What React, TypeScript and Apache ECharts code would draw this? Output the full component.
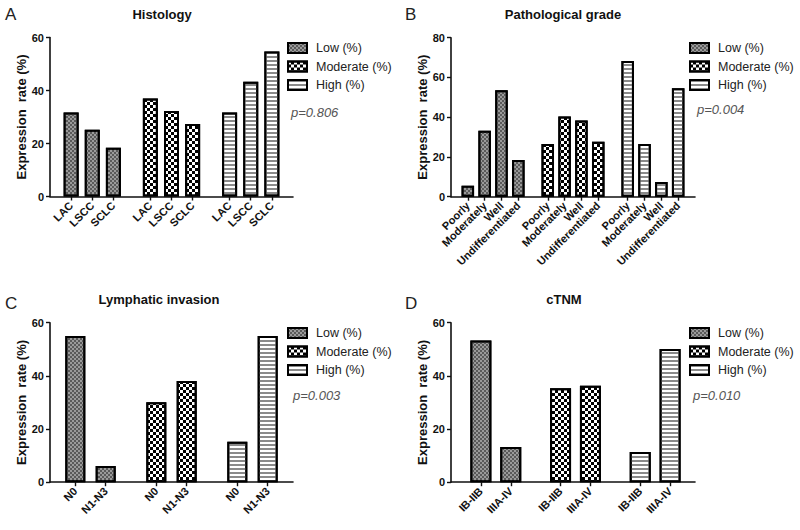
import React, { useEffect, useRef } from "react";
import * as echarts from "echarts";

// ---- Data ----
const seriesNames = ["Low (%)", "Moderate (%)", "High (%)"];

const histCats = ["LAC", "LSCC", "SCLC"];
const histLow = [31.7, 25.2, 18.4];
const histModerate = [37.0, 32.3, 27.4];
const histHigh = [31.7, 43.3, 54.7];

const gradeCats = ["Poorly", "Moderately", "Well", "Undifferentiated"];
const gradeLow = [5.5, 33.2, 53.6, 18.5];
const gradeModerate = [26.5, 40.3, 38.3, 27.6];
const gradeHigh = [68.3, 26.5, 7.4, 54.6];

const lymphCats = ["N0", "N1-N3"];
const lymphLow = [55.0, 6.1];
const lymphModerate = [30.1, 38.1];
const lymphHigh = [15.2, 55.0];

const tnmCats = ["IB-IIB", "IIIA-IV"];
const tnmLow = [53.3, 13.2];
const tnmModerate = [35.3, 36.3];
const tnmHigh = [11.4, 50.1];

const panelTitles = ["Histology", "Pathological grade", "Lymphatic invasion", "cTNM"];
const panelLetters = ["A", "B", "C", "D"];
const pValues = ["p=0.806", "p=0.004", "p=0.003", "p=0.010"];
const yMaxes = [60, 80, 60, 60];
const yTickInterval = 20;
const yAxisTitle = "Expression  rate (%)";

// ---- Styles ----
const FONT = "'Liberation Sans', Arial, Helvetica, sans-serif";

const decals = [
  {
    symbol: "rect",
    symbolSize: 1,
    symbolKeepAspect: false,
    color: "#5a5a5a",
    backgroundColor: "#dcdcdc",
    dashArrayX: [[1.5, 1.5], [0, 1.5, 1.5, 0]],
    dashArrayY: [1.5, 0],
    rotation: 0,
  },
  {
    symbol: "rect",
    symbolSize: 1,
    symbolKeepAspect: false,
    color: "#000000",
    backgroundColor: "#ffffff",
    dashArrayX: [[3, 3], [0, 3, 3, 0]],
    dashArrayY: [3, 0],
    rotation: 0,
  },
  {
    symbol: "rect",
    symbolSize: 1,
    symbolKeepAspect: false,
    color: "#8a8a8a",
    backgroundColor: "#ffffff",
    dashArrayX: [4, 0],
    dashArrayY: [1.4, 1.4],
    rotation: 0,
  },
];
const baseColors = ["#9a9a9a", "#ffffff", "#ffffff"];

type Panel = {
  cats: string[];
  groups: number[][];
  pad: number;
  step: number;
  gap: number;
  endPad: number;
  barWidth: number;
  grid: { left: number; top: number; width: number; height: number };
  legend: { left: number; top: number };
  title: { x: number; y: number };
  letter: { x: number; y: number };
  p: { x: number; y: number };
};

const panels: Panel[] = [
  {
    cats: histCats,
    groups: [histLow, histModerate, histHigh],
    pad: 4, step: 4, gap: 7, endPad: 4,
    barWidth: 15,
    grid: { left: 50, top: 37.5, width: 243, height: 159 },
    legend: { left: 287, top: 41 },
    title: { x: 162, y: 14 },
    letter: { x: 5, y: 14 },
    p: { x: 291, y: 112 },
  },
  {
    cats: gradeCats,
    groups: [gradeLow, gradeModerate, gradeHigh],
    pad: 4, step: 4, gap: 7, endPad: 4,
    barWidth: 12.5,
    grid: { left: 451, top: 37.7, width: 244, height: 159 },
    legend: { left: 689, top: 41 },
    title: { x: 563, y: 14 },
    letter: { x: 405, y: 14 },
    p: { x: 697, y: 109 },
  },
  {
    cats: lymphCats,
    groups: [lymphLow, lymphModerate, lymphHigh],
    pad: 5, step: 6, gap: 10, endPad: 5,
    barWidth: 20,
    grid: { left: 50, top: 322.7, width: 243, height: 159.5 },
    legend: { left: 287, top: 326 },
    title: { x: 159, y: 299 },
    letter: { x: 5, y: 303 },
    p: { x: 293, y: 395 },
  },
  {
    cats: tnmCats,
    groups: [tnmLow, tnmModerate, tnmHigh],
    pad: 6, step: 6, gap: 10, endPad: 5,
    barWidth: 21,
    grid: { left: 451, top: 322.7, width: 244, height: 159.5 },
    legend: { left: 689, top: 326 },
    title: { x: 564, y: 299 },
    letter: { x: 405, y: 303 },
    p: { x: 693, y: 395 },
  },
];

function buildOption() {
  const grids: any[] = [];
  const xAxes: any[] = [];
  const yAxes: any[] = [];
  const series: any[] = [];
  const legends: any[] = [];
  const graphics: any[] = [];

  panels.forEach((pn, pi) => {
    const n = pn.cats.length;
    const groupSpan = (n - 1) * pn.step + pn.gap;
    const last = pn.pad + 2 * groupSpan + (n - 1) * pn.step + pn.endPad;
    const slotIds: string[] = [];
    const slotLabels: string[] = [];
    for (let i = 0; i <= last; i++) {
      slotIds.push("s" + i);
      slotLabels.push("");
    }
    const groupData: any[][] = pn.groups.map(() => slotIds.map(() => "-"));
    pn.groups.forEach((vals, g) => {
      vals.forEach((v, c) => {
        const idx = pn.pad + g * groupSpan + c * pn.step;
        slotLabels[idx] = pn.cats[c];
        groupData[g][idx] = v;
      });
    });

    grids.push({ ...pn.grid, containLabel: false });

    const showFn = (idx: number) => slotLabels[idx] !== "";
    xAxes.push({
      type: "category",
      gridIndex: pi,
      data: slotIds,
      boundaryGap: false,
      axisLine: { show: true, lineStyle: { color: "#111", width: 1.6 } },
      axisTick: {
        show: true,
        interval: showFn,
        length: 4,
        lineStyle: { color: "#111", width: 1.4 },
      },
      axisLabel: {
        interval: showFn,
        rotate: 45,
        margin: 7,
        fontSize: 11,
        fontWeight: "bold",
        color: "#111",
        fontFamily: FONT,
        formatter: (_v: string, idx: number) => slotLabels[idx],
      },
      splitLine: { show: false },
    });

    yAxes.push({
      type: "value",
      gridIndex: pi,
      min: 0,
      max: yMaxes[pi],
      interval: yTickInterval,
      name: yAxisTitle,
      nameLocation: "middle",
      nameGap: 21,
      nameTextStyle: {
        fontSize: 13,
        fontWeight: "bold",
        color: "#111",
        fontFamily: FONT,
      },
      axisLine: { show: true, lineStyle: { color: "#111", width: 1.6 } },
      axisTick: { show: true, length: 4, lineStyle: { color: "#111", width: 1.4 } },
      axisLabel: {
        fontSize: 11,
        fontWeight: "bold",
        color: "#111",
        margin: 6,
        fontFamily: FONT,
      },
      splitLine: { show: false },
    });

    groupData.forEach((data, g) => {
      series.push({
        type: "bar",
        name: seriesNames[g],
        xAxisIndex: pi,
        yAxisIndex: pi,
        data,
        barWidth: pn.barWidth,
        barGap: "-100%",
        itemStyle: {
          color: baseColors[g],
          borderColor: "#000",
          borderWidth: 2,
          decal: decals[g],
        },
        emphasis: { disabled: true },
      });
    });

    legends.push({
      orient: "vertical",
      left: pn.legend.left,
      top: pn.legend.top,
      padding: 0,
      icon: "rect",
      itemWidth: 19,
      itemHeight: 10,
      itemGap: 4.5,
      selectedMode: false,
      data: seriesNames,
      itemStyle: { borderColor: "#000", borderWidth: 2 },
      textStyle: {
        fontSize: 12.5,
        lineHeight: 14,
        color: "#222",
        fontFamily: FONT,
        padding: [0, 0, 0, 4],
      },
    });

    graphics.push({
      type: "text",
      x: pn.letter.x,
      y: pn.letter.y,
      style: {
        text: panelLetters[pi],
        fontSize: 17,
        fontFamily: FONT,
        fill: "#222",
        align: "left",
        verticalAlign: "middle",
      },
    });
    graphics.push({
      type: "text",
      x: pn.title.x,
      y: pn.title.y,
      style: {
        text: panelTitles[pi],
        fontSize: 13,
        fontWeight: "bold",
        fontFamily: FONT,
        fill: "#111",
        align: "center",
        verticalAlign: "middle",
      },
    });
    graphics.push({
      type: "text",
      x: pn.p.x,
      y: pn.p.y,
      style: {
        text: pValues[pi],
        fontSize: 13,
        fontStyle: "italic",
        fontFamily: FONT,
        fill: "#555",
        align: "left",
        verticalAlign: "middle",
      },
    });
  });

  return {
    animation: false,
    backgroundColor: "#ffffff",
    textStyle: { fontFamily: FONT },
    grid: grids,
    xAxis: xAxes,
    yAxis: yAxes,
    legend: legends,
    series,
    graphic: graphics,
  };
}

export default function App() {
  const ref = useRef<HTMLDivElement>(null);
  useEffect(() => {
    if (!ref.current) return;
    const chart = echarts.init(ref.current, null, { renderer: "svg" });
    chart.setOption(buildOption() as any);
    return () => chart.dispose();
  }, []);
  return (
    <div
      ref={ref}
      style={{ position: "absolute", left: 0, top: 0, width: 800, height: 530 }}
    />
  );
}
